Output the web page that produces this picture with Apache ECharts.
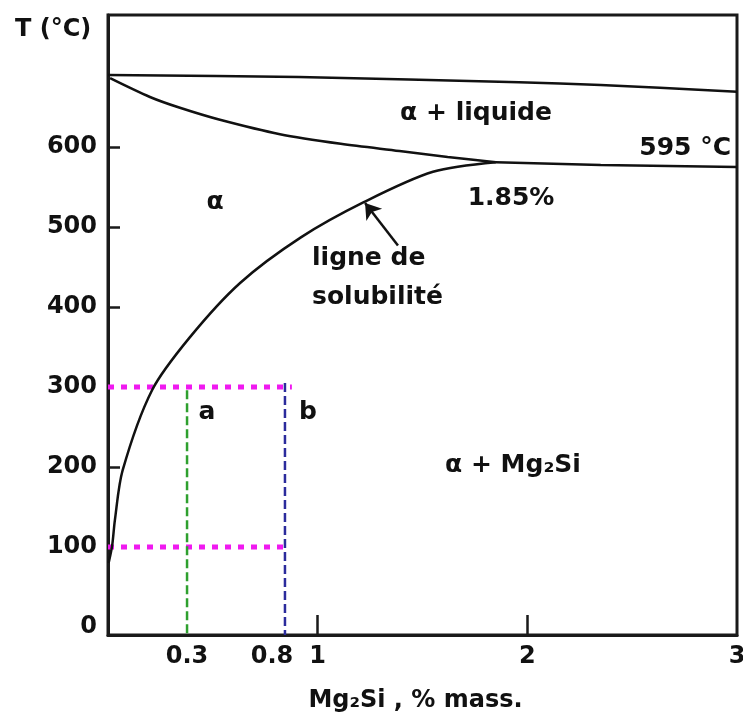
<!DOCTYPE html>
<html>
<head>
<meta charset="utf-8">
<script src="https://cdn.jsdelivr.net/npm/echarts@6/dist/echarts.min.js"></script>
<style>
  html, body { margin: 0; padding: 0; background: #fff; }
  #chart { width: 743px; height: 717px; }
</style>
</head>
<body>
<div id="chart"></div>
<script>
// phase boundaries (x = % Mg2Si, y = °C)
const liquidusX = [0, 0.91, 1.96, 2.35, 3];
const liquidusT = [690, 687.5, 681, 677.5, 669];
const solidusX = [0.01, 0.2, 0.343, 0.534, 0.82, 1.11, 1.39, 1.62, 1.85];
const solidusT = [686, 662.5, 649, 634, 616, 604, 595, 587.5, 581];
const solvusX = [0.003, 0.02, 0.033, 0.07, 0.21, 0.39, 0.63, 0.92, 1.22, 1.55, 1.85];
const solvusT = [80, 102, 134, 196, 296, 362, 430, 487, 531, 569, 581];
const eutecticX = [1.85, 2.35, 3];
const eutecticT = [581, 577.5, 575];

// construction lines for alloys a and b
const tempLevels = [300, 100];
const levelEndX = [0.877, 0.865];
const alloyA = 0.377;
const alloyB = 0.844;
const alloyATop = 296;
const alloyBTop = 305;
const arrowFrom = [1.383, 477];
const arrowTo = [1.226, 530];

// tick labels
const yTickValues = [0, 100, 200, 300, 400, 500, 600];
const xTickValues = [alloyA, alloyB, 1, 2, 3];
const xTickLabels = ["0.3", "0.8", "1", "2", "3"];

const FONT = "DejaVu Sans";
const INK = "#111";

function pairs(xs, ys) {
  return xs.map((x, i) => [x, ys[i]]);
}

function boundary(xs, ys, extra) {
  return Object.assign({
    type: "line",
    data: pairs(xs, ys),
    smooth: 0.3,
    symbol: "none",
    silent: true,
    lineStyle: { color: "#111", width: 2.5 },
  }, extra || {});
}

function guide(points, color, dash, width) {
  return {
    type: "line",
    data: points,
    symbol: "none",
    silent: true,
    lineStyle: { color: color, width: width, type: dash },
  };
}

function label(text, x, y, align, size) {
  return {
    type: "text",
    x: x,
    y: y,
    style: {
      text: text,
      fill: INK,
      font: "bold " + (size || 25) + "px '" + FONT + "'",
      textAlign: align || "left",
      textVerticalAlign: "middle",
    },
  };
}

const chart = echarts.init(document.getElementById("chart"));

chart.setOption({
  animation: false,
  backgroundColor: "#fff",
  grid: {
    left: 108,
    right: 6,
    top: 15,
    bottom: 82,
    outerBoundsMode: "none",
    containLabel: false,
    show: true,
    borderColor: "#1a1a1a",
    borderWidth: 3,
  },
  xAxis: {
    type: "value",
    min: 0,
    max: 3,
    name: "Mg₂Si , % mass.",
    nameLocation: "middle",
    nameGap: 54,
    nameTextStyle: {
      color: INK,
      fontFamily: FONT,
      fontWeight: "bold",
      fontSize: 24,
      padding: [0, 14, 0, 0],
    },
    axisLine: { show: true, onZero: false, lineStyle: { color: "#1a1a1a", width: 3 } },
    axisTick: {
      show: true,
      inside: true,
      length: 20,
      customValues: [1, 2],
      lineStyle: { color: "#1a1a1a", width: 2.5 },
    },
    axisLabel: {
      customValues: xTickValues,
      margin: 10,
      color: INK,
      fontFamily: FONT,
      fontWeight: "bold",
      fontSize: 24,
      formatter: (v) => {
        const i = xTickValues.findIndex((t) => Math.abs(t - v) < 1e-6);
        const txt = i >= 0 ? xTickLabels[i] : "";
        return i === 1 ? "{l|" + txt + "}" : txt;
      },
      rich: {
        l: {
          color: INK,
          fontFamily: FONT,
          fontWeight: "bold",
          fontSize: 24,
          padding: [0, 26, 0, 0],
        },
      },
    },
    splitLine: { show: false },
  },
  yAxis: {
    type: "value",
    min: -10,
    max: 765,
    axisLine: { show: true, onZero: false, lineStyle: { color: "#1a1a1a", width: 3 } },
    axisTick: {
      show: true,
      inside: true,
      length: 12,
      customValues: [200, 400, 500, 600],
      lineStyle: { color: "#1a1a1a", width: 2.5 },
    },
    axisLabel: {
      customValues: yTickValues,
      margin: 11,
      color: INK,
      fontFamily: FONT,
      fontWeight: "bold",
      fontSize: 24,
    },
    splitLine: { show: false },
  },
  series: [
    guide([[0, tempLevels[0]], [levelEndX[0], tempLevels[0]]], "#f019f0", [6, 7], 5),
    guide([[0, tempLevels[1]], [levelEndX[1], tempLevels[1]]], "#f019f0", [6, 7], 5),
    guide([[alloyA, alloyATop], [alloyA, -10]], "#2ea02e", [9, 4], 2.5),
    guide([[alloyB, alloyBTop], [alloyB, -10]], "#2b2b9c", [9, 4], 2.5),
    boundary(liquidusX, liquidusT),
    boundary(solidusX, solidusT),
    boundary(eutecticX, eutecticT, { smooth: false }),
    boundary(solvusX, solvusT, {
      markLine: {
        silent: true,
        symbol: ["none", "arrow"],
        symbolSize: 15,
        label: { show: false },
        lineStyle: { color: "#111", width: 2.5, type: "solid" },
        data: [[{ coord: arrowFrom }, { coord: arrowTo }]],
      },
    }),
  ],
  graphic: [
    label("T (°C)", 15, 30, "left", 24),
    label("α + liquide", 476, 113, "center"),
    label("595 °C", 731, 148, "right"),
    label("α", 215, 202, "center"),
    label("1.85%", 511, 198, "center"),
    label("ligne de", 312, 258, "left"),
    label("solubilité", 312, 297, "left"),
    label("a", 207, 412, "center"),
    label("b", 308, 412, "center"),
    label("α + Mg₂Si", 513, 465, "center"),
  ],
});
</script>
</body>
</html>
